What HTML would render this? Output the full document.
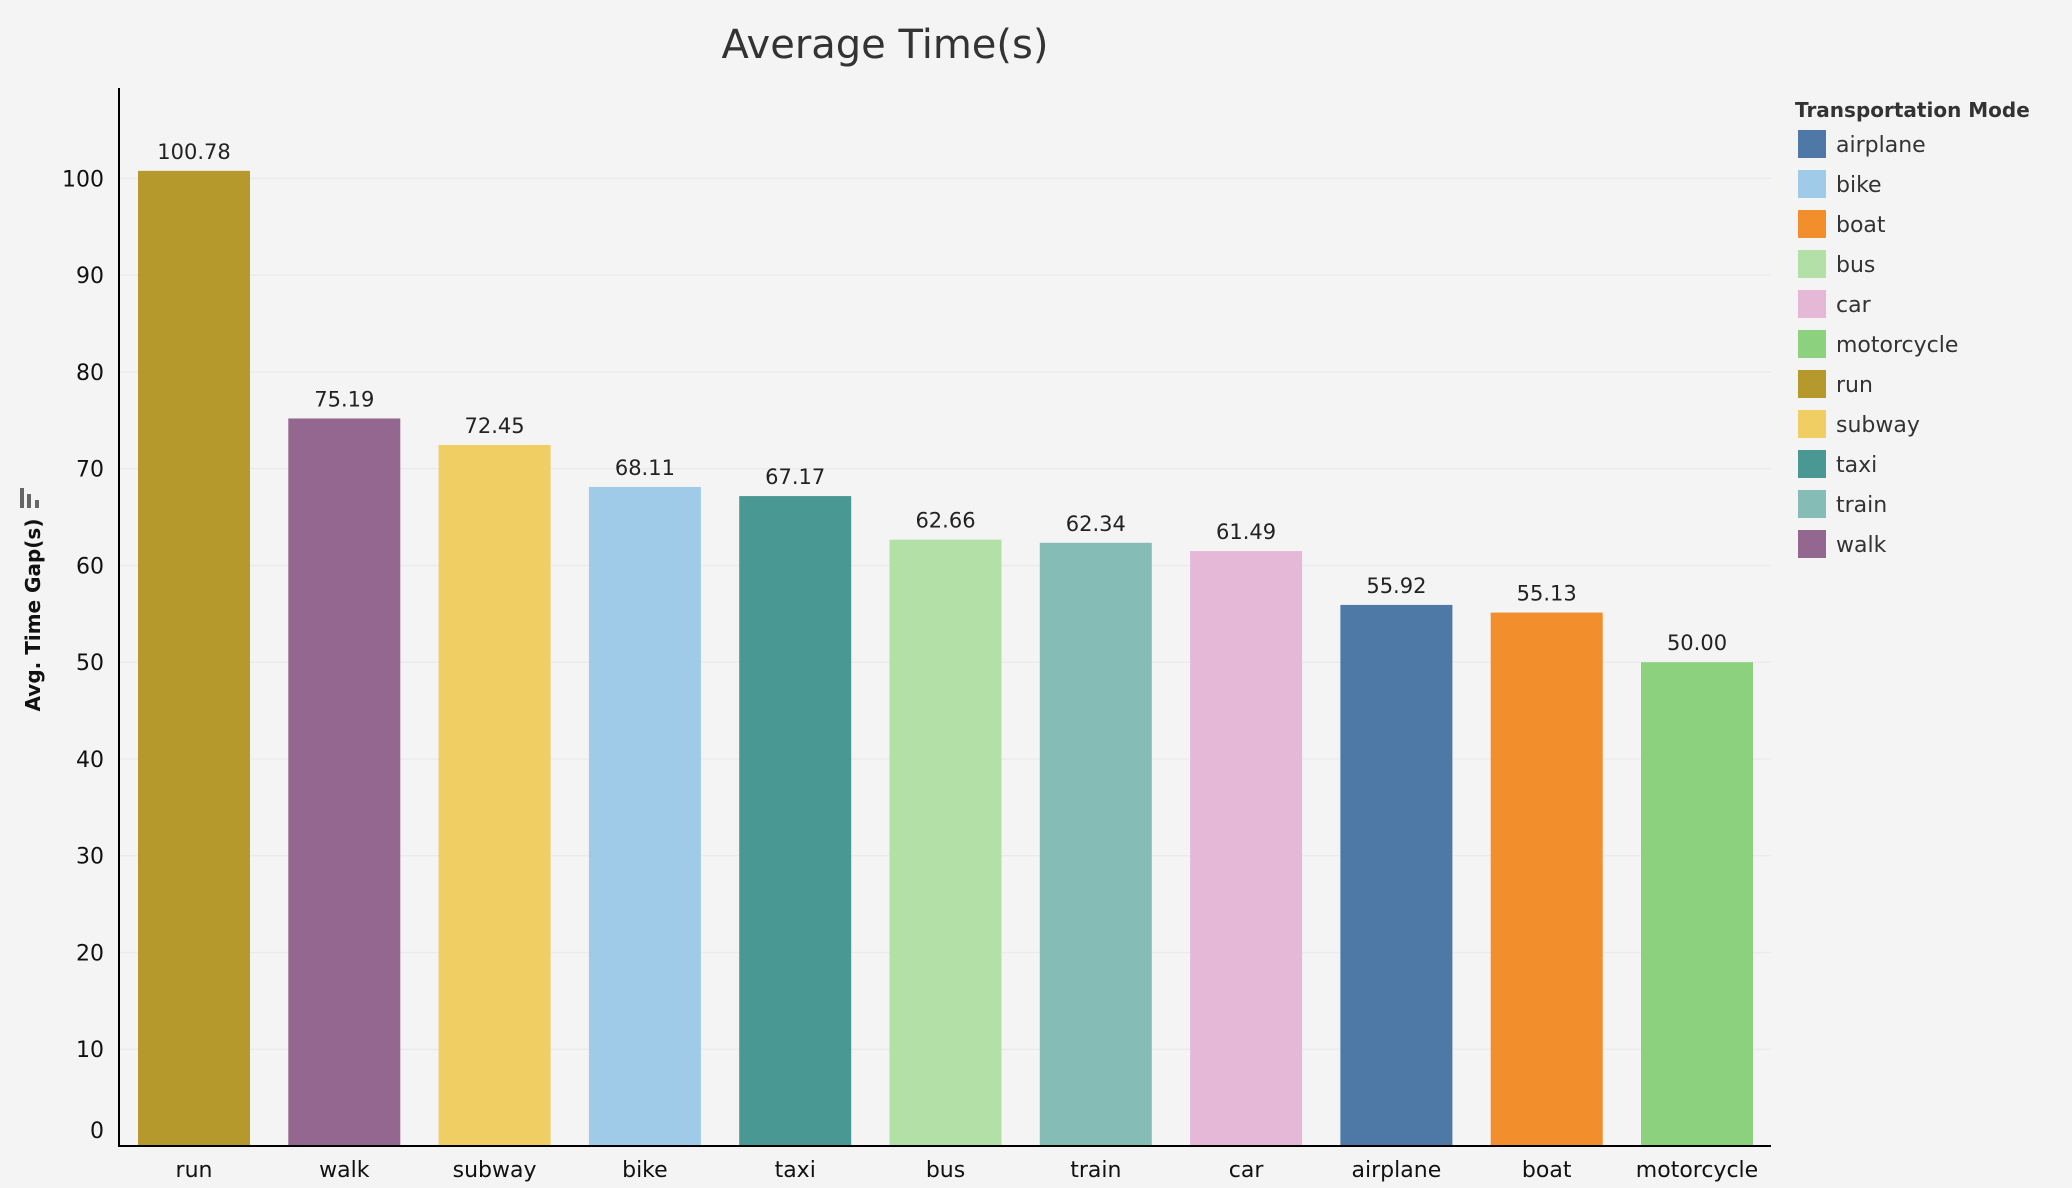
<!DOCTYPE html>
<html><head><meta charset="utf-8"><style>
body{margin:0;background:#f4f4f4;}
svg{display:block;font-family:"DejaVu Sans","Liberation Sans",sans-serif;}
</style></head><body>
<svg id="chart" width="2072" height="1188" viewBox="0 0 2072 1188">
<rect width="2072" height="1188" fill="#f4f4f4"/>
<text x="885" y="58" text-anchor="middle" font-size="40" fill="#333">Average Time(s)</text>
<g id="grid"></g>
<g id="bars"></g>
<g id="yticks"></g>
<line x1="119" y1="88" x2="119" y2="1146" stroke="#000" stroke-width="2"/>
<line x1="118" y1="1146" x2="1771" y2="1146" stroke="#000" stroke-width="2"/>
<text transform="translate(40,615) rotate(-90)" text-anchor="middle" font-size="20" font-weight="bold" fill="#111">Avg. Time Gap(s)</text>
<g fill="#666"><rect x="20" y="488" width="4" height="20"/><rect x="27" y="494" width="4" height="14"/><rect x="35" y="500" width="4" height="8"/></g>
<g id="legend">
<text x="1795" y="117" font-size="20" font-weight="bold" fill="#333">Transportation Mode</text>
</g>
</svg>
<script>
const categories=["run","walk","subway","bike","taxi","bus","train","car","airplane","boat","motorcycle"];
const values=[100.78,75.19,72.45,68.11,67.17,62.66,62.34,61.49,55.92,55.13,50.00];
const tickLabels=[0,10,20,30,40,50,60,70,80,90,100];
const legendItems=["airplane","bike","boat","bus","car","motorcycle","run","subway","taxi","train","walk"];
const colors={airplane:"#4e79a7",bike:"#a0cbe8",boat:"#f28e2b",bus:"#b3e0a6",car:"#e6b8d7",motorcycle:"#8cd17d",run:"#b6992d",subway:"#f1ce63",taxi:"#499894",train:"#86bcb6",walk:"#946790"};
const NS="http://www.w3.org/2000/svg";
const y0=1146,pxPerUnit=9.676;
function yScale(v){return y0-v*pxPerUnit;}
function xScale(i){return 138+i*150.3;}
const bw=112;
function mk(tag,attrs,parent){const e=document.createElementNS(NS,tag);for(const k in attrs)e.setAttribute(k,attrs[k]);parent.appendChild(e);return e;}
const grid=document.getElementById('grid'),bars=document.getElementById('bars'),yt=document.getElementById('yticks'),lg=document.getElementById('legend');
tickLabels.forEach(t=>{
  const y=yScale(t);
  if(t>0){const l=mk('line',{x1:120,x2:1771,y1:y,y2:y,stroke:'#ebebeb','stroke-width':1.5},grid);
  
  }
  const ty=t===0?y-8:y+8;
  const tx=mk('text',{x:104,y:ty,'text-anchor':'end','font-size':22,fill:'#111'},yt);
  tx.textContent=t;
  
  
});
categories.forEach((c,i)=>{
  const x=xScale(i),y=yScale(values[i]);
  const r=mk('rect',{x:x,y:y,width:bw,height:y0-y,fill:colors[c]},bars);
  
  
  const v=mk('text',{x:x+bw/2,y:y-12,'text-anchor':'middle','font-size':21,fill:'#222'},bars);
  v.textContent=values[i].toFixed(2);
  
  
  const xl=mk('text',{x:x+bw/2,y:1177,'text-anchor':'middle','font-size':22,fill:'#111'},bars);
  xl.textContent=c;
  
  
});
legendItems.forEach((c,i)=>{
  const y=130+i*40;
  const s=mk('rect',{x:1798,y:y,width:28,height:28,fill:colors[c]},lg);
  
  
  const t=mk('text',{x:1836,y:y+22,'font-size':22,fill:'#333'},lg);
  t.textContent=c;
  
  
});
</script>
</body></html>
